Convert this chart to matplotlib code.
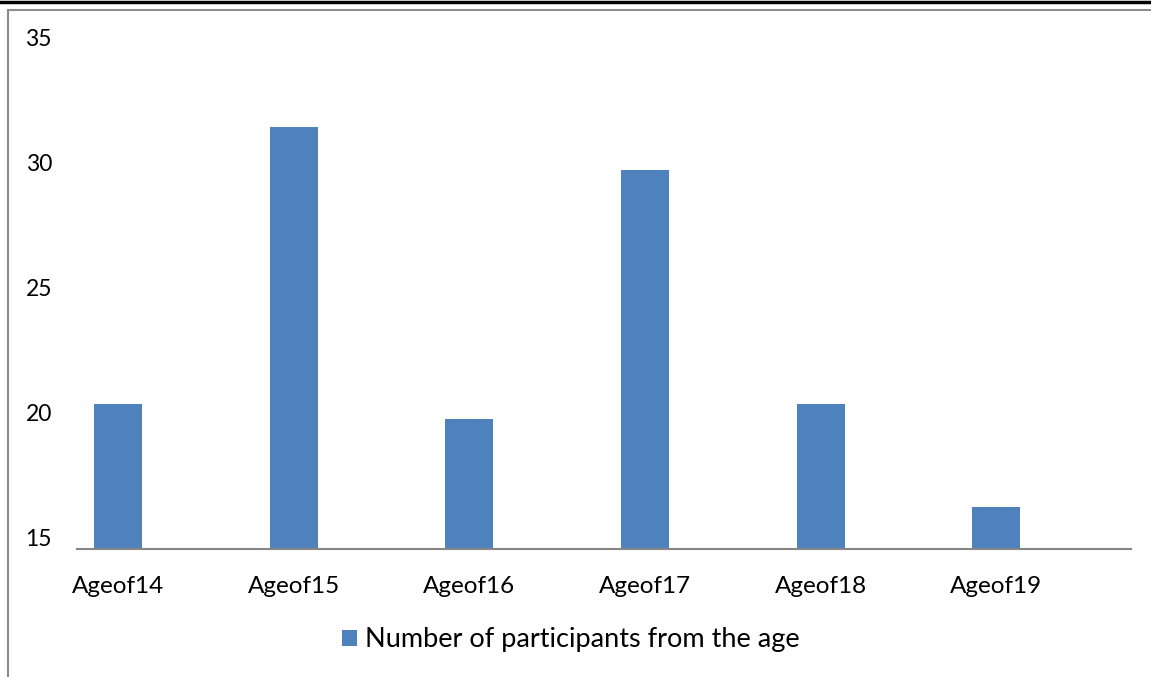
import matplotlib.pyplot as plt
from matplotlib.lines import Line2D

plt.rcParams['font.family'] = ['Lato', 'DejaVu Sans']

# participants per age group
ages = ["Ageof14", "Ageof15", "Ageof16", "Ageof17", "Ageof18", "Ageof19"]
participants = [20.33, 31.43, 19.73, 29.71, 20.33, 16.2]
y_ticks = [15, 20, 25, 30, 35]
series_name = "Number of participants from the age"

W, H = 1151, 677
fig = plt.figure(figsize=(W / 100, H / 100), dpi=100)
ax = fig.add_axes([77 / W, 128 / H, (1131 - 77) / W, (549 - 20) / H])

x = list(range(len(ages)))
ax.bar(x, participants, width=0.273, color="#4F81BD", label=series_name, zorder=2)

ax.set_xlim(-0.233, 5.766)
ax.set_ylim(14.52, 35.72)
ax.set_xticks(x)
ax.set_xticklabels(ages, fontsize=17.5)
ax.set_yticks(y_ticks)
ax.set_yticklabels([str(v) for v in y_ticks], fontsize=16.5)
ax.tick_params(axis="both", length=0)
ax.tick_params(axis="y", pad=18)
ax.tick_params(axis="x", pad=19.5)
for side in ("top", "right", "left"):
    ax.spines[side].set_visible(False)
ax.spines["bottom"].set_color("#868686")
ax.spines["bottom"].set_linewidth(1.5)

leg = fig.legend(loc="center", bbox_to_anchor=(570.5 / W, 37 / H), frameon=False,
                 fontsize=19.5, handlelength=0.56, handleheight=0.56, handletextpad=0.3)

# chart border: dark band on top, grey frame lines
fig.add_artist(Line2D([0, 1], [1 - 1.5 / H, 1 - 1.5 / H], color="black", linewidth=2.5))
fig.add_artist(Line2D([8 / W, 1], [1 - 10 / H, 1 - 10 / H], color="#8c8c8c", linewidth=1.5))
fig.add_artist(Line2D([8 / W, 8 / W], [0, 1 - 10 / H], color="#8c8c8c", linewidth=1.5))

fig.savefig("out.png", dpi=100)
